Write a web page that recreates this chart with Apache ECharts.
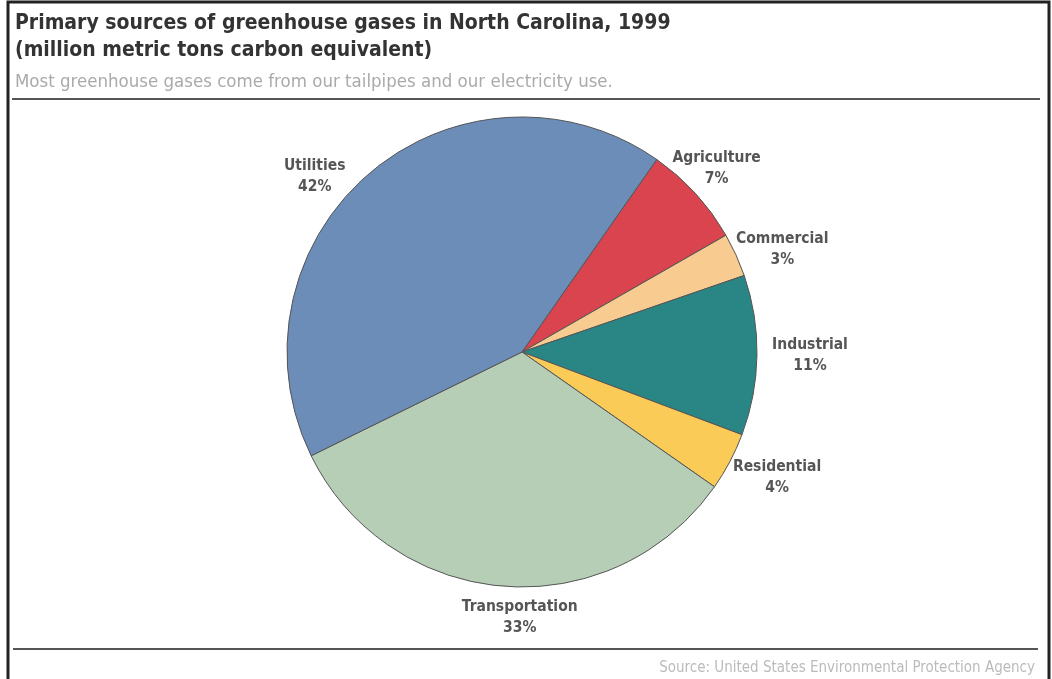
<!DOCTYPE html>
<html>
<head>
<meta charset="utf-8">
<title>Greenhouse gases NC 1999</title>
<script src="https://cdn.jsdelivr.net/npm/echarts@6/dist/echarts.min.js"></script>
<style>
  html, body { margin: 0; padding: 0; background: #fff; }
  #main { width: 1052px; height: 679px; }
</style>
</head>
<body>
<div id="main"></div>
<script>
var sources = ['Agriculture', 'Commercial', 'Industrial', 'Residential', 'Transportation', 'Utilities']
var shares = [7, 3, 11, 4, 33, 42]
var colors = ['#d9444f', '#f8cc90', '#2a8585', '#fbcb58', '#b5ceb5', '#6b8db8']

var font = '"DejaVu Sans Condensed", "DejaVu Sans", sans-serif'
var cx = 522, cy = 352, r = 235, startAngle = 55

// small hand nudges so the labels sit where the original put them
var nudge = {
  Agriculture: [-10, 3],
  Commercial: [8, 12],
  Industrial: [11, 0],
  Residential: [10, -4],
  Transportation: [19, -11],
  Utilities: [-27, 35]
}

var total = 0
for (var i = 0; i < shares.length; i++) total += shares[i]

// label centre sits a fixed gap outside the slice, on its mid angle
function placeLabel(p) {
  var before = 0
  for (var k = 0; k < p.dataIndex; k++) before += shares[k]
  var mid = (startAngle - (before + shares[p.dataIndex] / 2) / total * 360) * Math.PI / 180
  var d = r + 42
  var n = nudge[sources[p.dataIndex]] || [0, 0]
  return {
    x: cx + Math.cos(mid) * d + n[0],
    y: cy - Math.sin(mid) * d + n[1],
    align: 'center',
    verticalAlign: 'middle'
  }
}

var pieData = []
for (var j = 0; j < sources.length; j++) {
  pieData.push({ name: sources[j], value: shares[j], itemStyle: { color: colors[j] } })
}

var myChart = echarts.init(document.getElementById('main'))
var option = {
  backgroundColor: '#fff',
  animation: false,
  title: [{
    text: 'Primary sources of greenhouse gases in North Carolina, 1999\n(million metric tons carbon equivalent)',
    left: 10,
    top: 5,
    textStyle: { fontFamily: font, fontSize: 21, fontWeight: 'bold', color: '#333', lineHeight: 27 }
  }, {
    text: 'Most greenhouse gases come from our tailpipes and our electricity use.',
    left: 10,
    top: 68,
    textStyle: { fontFamily: font, fontSize: 18.5, fontWeight: 'normal', color: '#aaa' }
  }, {
    text: 'Source: United States Environmental Protection Agency',
    right: 12,
    top: 656,
    textStyle: { fontFamily: font, fontSize: 15, fontWeight: 'normal', color: '#bbb' }
  }],
  graphic: [{
    type: 'polyline',
    shape: { points: [[8, 679], [8, 2], [1049, 2], [1049, 679]] },
    style: { stroke: '#222', lineWidth: 3, fill: null }
  }, {
    type: 'line',
    shape: { x1: 12, y1: 99, x2: 1040, y2: 99 },
    style: { stroke: '#555', lineWidth: 2 }
  }, {
    type: 'line',
    shape: { x1: 13, y1: 649, x2: 1038, y2: 649 },
    style: { stroke: '#555', lineWidth: 2 }
  }],
  series: [{
    type: 'pie',
    center: [cx, cy],
    radius: r,
    startAngle: startAngle,
    clockwise: true,
    data: pieData,
    itemStyle: { borderColor: '#555', borderWidth: 1 },
    label: {
      show: true,
      position: 'outside',
      formatter: '{b}\n{c}%',
      fontFamily: font,
      fontSize: 15.5,
      fontWeight: 'bold',
      color: '#555',
      lineHeight: 21
    },
    labelLine: { show: false },
    labelLayout: placeLabel,
    emphasis: { disabled: true }
  }]
}
myChart.setOption(option)
</script>
</body>
</html>
